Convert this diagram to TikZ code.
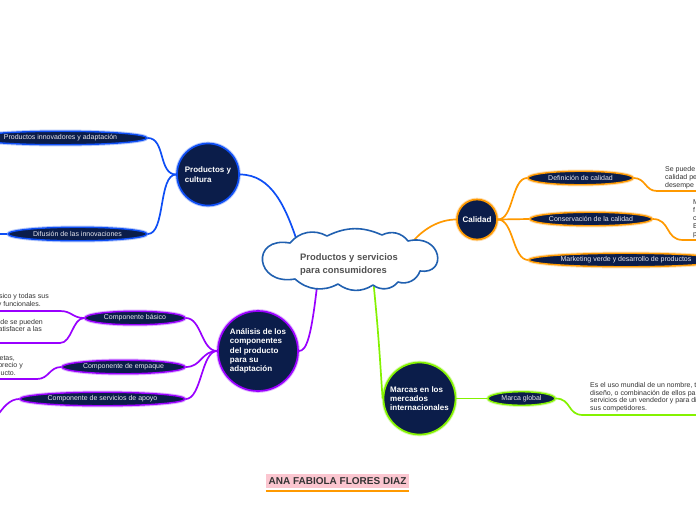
\documentclass[tikz,border=0pt]{standalone}
\usepackage{fontspec}
\setmainfont{Liberation Sans}
\usetikzlibrary{shapes.geometric}
\pgfdeclarelayer{background}
\pgfsetlayers{background,main}
\definecolor{navy}{HTML}{0B1D4A}
\definecolor{etext}{HTML}{E8E8EE}
\definecolor{notec}{HTML}{333333}
\definecolor{cblue}{HTML}{0E4EF5}
\definecolor{cloudblue}{HTML}{2060B0}
\definecolor{corange}{HTML}{FF9900}
\definecolor{cpurple}{HTML}{9900FF}
\definecolor{cgreen}{HTML}{84F200}
\definecolor{pinkbg}{HTML}{FBC6D0}
\begin{document}
\begin{tikzpicture}[x=1pt,y=-1pt,
  conn/.style={line width=1.7pt, draw=#1},
  bub/.style={ellipse, draw=#1, line width=1.4pt, fill=navy, inner sep=0pt,
    minimum height=13.5pt, text=etext, font=\fontsize{7}{8}\selectfont,
    preaction={draw=#1, draw opacity=0.3, line width=3.4pt}},
  topic/.style={circle, draw=#1, line width=1.7pt, fill=navy, inner sep=0pt,
    text=white, font=\fontsize{8}{9.3}\selectfont\bfseries, align=left,
    preaction={draw=#1, draw opacity=0.3, line width=3.6pt}},
  note/.style={inner sep=0pt, font=\fontsize{7}{8}\selectfont, text=notec, align=left},
  lnote/.style={inner sep=0pt, font=\fontsize{7}{8}\selectfont, text=notec, anchor=base east},
  puff/.style={bend left=45},
]
\useasboundingbox (0,0) rectangle (696,520);

% central cloud (anchor ellipse + drawn outline)
\node[ellipse, draw=none, inner sep=0pt, minimum width=160pt, minimum height=48pt] (cloud) at (349,262) {};
\draw[cloudblue, line width=1.6pt, fill=white, line join=round]
  (295,279) .. controls (255,286) and (250,236) .. (290,243)
  to[bend left=40] (327,236)
  to[bend left=25] (382,235)
  to[bend left=40] (408,241)
  .. controls (442,233) and (448,275) .. (420,271)
  to[puff] (398,282)
  to[puff] (373,285)
  to[bend left=35] (338,284)
  to[bend left=35] (295,279) -- cycle;
\node[inner sep=0pt, align=left, text=notec!85!white,
  font=\fontsize{9.4}{13}\selectfont\bfseries] (ct) at (349,264.5)
  {Productos y servicios\\para consumidores};

% topics
\node[topic=cblue, minimum size=62pt] (pyc) at (208,174.5) {Productos y\\cultura};
\node[topic=corange, minimum size=40pt] (cal) at (477,219.5) {Calidad};
\node[topic=cpurple, minimum size=80pt] (ana) at (258,351) {Análisis de los\\componentes\\del producto\\para su\\adaptación};
\node[topic=cgreen, minimum size=72pt] (mar) at (419.5,398.5) {Marcas en los\\mercados\\internacionales};

% subtopics
\node[bub=cblue, minimum width=173pt] (pia) at (60.5,138) {\makebox[0pt]{Productos innovadores y adaptación}};
\node[bub=cblue, minimum width=139pt] (dif) at (77.5,234) {\makebox[0pt]{Difusión de las innovaciones}};
\node[bub=corange, minimum width=105pt] (def) at (580.5,178) {\makebox[0pt]{Definición de calidad}};
\node[bub=corange, minimum width=122pt] (con) at (591,219) {\makebox[0pt]{Conservación de la calidad}};
\node[bub=corange, minimum width=194pt] (mkt) at (626,260) {\makebox[0pt]{Marketing verde y desarrollo de productos}};
\node[bub=cpurple, minimum width=100pt] (cb) at (135,318) {\makebox[0pt]{Componente básico}};
\node[bub=cpurple, minimum width=123pt] (ce) at (123.5,367) {\makebox[0pt]{Componente de empaque}};
\node[bub=cpurple, minimum width=165pt] (csa) at (102.5,399) {\makebox[0pt]{Componente de servicios de apoyo}};
\node[bub=cgreen, minimum width=67pt] (mg) at (521.5,398.5) {\makebox[0pt]{Marca global}};

% free ends
\coordinate (difend) at (-4,234);
\coordinate (defa) at (657,191);
\coordinate (defb) at (700,191);
\coordinate (cona) at (683,240);
\coordinate (conb) at (700,240);
\coordinate (mga) at (583,415);
\coordinate (mgb) at (700,415);
\coordinate (cba) at (60,311);
\coordinate (cbb) at (-5,311);
\coordinate (cbc) at (60,343);
\coordinate (cbd) at (-5,343);
\coordinate (cea) at (37,379);
\coordinate (ceb) at (-5,379);
\coordinate (csaa) at (-3,416);

% notes
\node[note, anchor=north west] (ndef) at (665,166.5) {Se puede\\calidad pe\\desempe};
\node[note, anchor=north west] (ncon) at (693,199.5) {M\\f\\c\\E\\p};
\node[note, anchor=north west, font=\fontsize{7}{7.8}\selectfont] (nmg) at (590,382)
  {Es el uso mundial de un nombre, t\\diseño, o combinación de ellos pa\\servicios de un vendedor y para di\\sus competidores.};
\node[lnote] (n1) at (49,298.5) {sico y todas sus};
\node[lnote] (n2) at (41,306.5) {y funcionales.};
\node[lnote] (n3) at (43,324.5) {de se pueden};
\node[lnote] (n4) at (42,331.5) {atisfacer a las};
\node[lnote] (n5) at (15,360.5) {etas,};
\node[lnote] (n6) at (23,367.5) {precio y};
\node[lnote] (n7) at (16,375.5) {ducto.};

% author label
\node[fill=pinkbg, inner sep=0pt, minimum width=143pt, minimum height=14pt,
  text=notec, font=\fontsize{10}{12}\selectfont\bfseries] (name) at (337.5,481)
  {ANA FABIOLA FLORES DIAZ};
\draw[corange, line width=1.6pt] ([yshift=-2.5pt]name.south west) -- ([yshift=-2.5pt]name.south east);

\begin{pgfonlayer}{background}
  \fill[white] (0,0) rectangle (696,520);
  % blue
  \draw[conn=cblue] (pyc.east) .. controls +(32,0) and +(-12,-36) .. (cloud.160);
  \draw[conn=cblue] (pyc.west) .. controls +(-18,0) and +(18,0) .. (pia.east);
  \draw[conn=cblue] (pyc.west) .. controls +(-18,0) and +(18,0) .. (dif.east);
  \draw[conn=cblue] (dif.west) -- (difend);
  % orange
  \draw[conn=corange] (cloud.15) .. controls +(14,-18) and +(-16,0) .. (cal.west);
  \draw[conn=corange] (cal.east) .. controls +(16,0) and +(-16,0) .. (def.west);
  \draw[conn=corange] (cal.east) .. controls +(16,0) and +(-16,0) .. (con.west);
  \draw[conn=corange] (cal.east) .. controls +(16,0) and +(-16,0) .. (mkt.west);
  \draw[conn=corange] (def.east) .. controls +(12,0) and +(-12,0) .. (defa) -- (defb);
  \draw[conn=corange] (con.east) .. controls +(18,0) and +(-18,0) .. (cona) -- (conb);
  % purple
  \draw[conn=cpurple] (cloud.215) .. controls +(-6,52) and +(8,0) .. (ana.east);
  \draw[conn=cpurple] (ana.west) .. controls +(-16,0) and +(16,0) .. (cb.east);
  \draw[conn=cpurple] (ana.west) .. controls +(-16,0) and +(16,0) .. (ce.east);
  \draw[conn=cpurple] (ana.west) .. controls +(-16,0) and +(16,0) .. (csa.east);
  \draw[conn=cpurple] (cb.west) .. controls +(-12,0) and +(12,0) .. (cba) -- (cbb);
  \draw[conn=cpurple] (cb.west) .. controls +(-12,0) and +(12,0) .. (cbc) -- (cbd);
  \draw[conn=cpurple] (ce.west) .. controls +(-12,0) and +(12,0) .. (cea) -- (ceb);
  \draw[conn=cpurple] (csa.west) .. controls +(-10,0) and +(6,-8) .. (csaa);
  % green
  \draw[conn=cgreen] (cloud.317) .. controls +(6,60) and +(-2,-25) .. (mar.west);
  \draw[conn=cgreen] (mar.east) -- (mg.west);
  \draw[conn=cgreen] (mg.east) .. controls +(16,0) and +(-16,0) .. (mga) -- (mgb);
\end{pgfonlayer}
\end{tikzpicture}
\end{document}
